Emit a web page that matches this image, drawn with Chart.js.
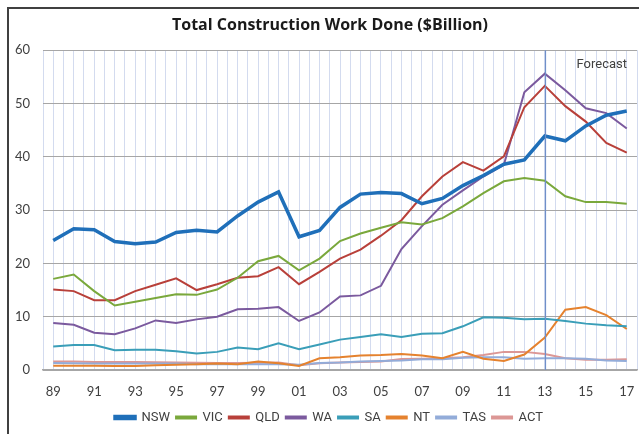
<!DOCTYPE html>
<html>
<head>
<meta charset="utf-8">
<script src="https://cdn.jsdelivr.net/npm/chart.js@4/dist/chart.umd.min.js"></script>
<style>
  html, body { margin: 0; padding: 0; background: #fff; overflow: hidden; }
  #bauChart { display: block; }
</style>
</head>
<body>
<canvas id="bauChart" width="639" height="434"></canvas>
<script>
// Jahre 1989 - 2017 (Werte in $Billion)
const years = [1989, 1990, 1991, 1992, 1993, 1994, 1995, 1996, 1997, 1998, 1999, 2000, 2001, 2002, 2003,
               2004, 2005, 2006, 2007, 2008, 2009, 2010, 2011, 2012, 2013, 2014, 2015, 2016, 2017];

const nsw = [24.3, 26.5, 26.3, 24.1, 23.7, 24.0, 25.8, 26.2, 25.9, 28.9, 31.5, 33.4, 25.0, 26.2, 30.5,
             33.0, 33.3, 33.1, 31.2, 32.2, 34.6, 36.5, 38.6, 39.4, 43.9, 43.0, 45.8, 47.8, 48.6];
const vic = [17.1, 17.9, 14.8, 12.1, 12.8, 13.5, 14.2, 14.1, 15.1, 17.3, 20.4, 21.4, 18.7, 20.9, 24.2,
             25.6, 26.7, 27.7, 27.3, 28.5, 30.7, 33.2, 35.4, 36.0, 35.5, 32.6, 31.5, 31.5, 31.2];
const qld = [15.1, 14.8, 13.1, 13.1, 14.8, 16.0, 17.2, 15.0, 16.1, 17.3, 17.6, 19.3, 16.1, 18.4, 20.9,
             22.6, 25.2, 28.1, 32.6, 36.3, 39.0, 37.4, 40.1, 49.3, 53.3, 49.5, 46.6, 42.6, 40.8];
const wa  = [8.8, 8.5, 7.0, 6.7, 7.8, 9.3, 8.8, 9.5, 10.0, 11.4, 11.5, 11.8, 9.2, 10.8, 13.8,
             14.0, 15.8, 22.7, 27.0, 31.0, 33.7, 36.3, 38.5, 52.1, 55.6, 52.5, 49.1, 48.2, 45.3];
const sa  = [4.4, 4.7, 4.7, 3.7, 3.8, 3.8, 3.5, 3.1, 3.4, 4.2, 3.9, 5.0, 3.9, 4.8, 5.7,
             6.2, 6.7, 6.2, 6.8, 6.9, 8.2, 9.9, 9.8, 9.5, 9.6, 9.2, 8.7, 8.4, 8.2];
const nt  = [0.8, 0.8, 0.8, 0.75, 0.75, 0.9, 1.0, 1.1, 1.2, 1.1, 1.6, 1.25, 0.75, 2.2, 2.4,
             2.7, 2.8, 3.0, 2.7, 2.2, 3.4, 2.1, 1.7, 2.9, 6.1, 11.3, 11.8, 10.3, 7.7];
const tas = [1.3, 1.25, 1.2, 1.2, 1.2, 1.2, 1.2, 1.1, 1.1, 1.1, 1.1, 1.1, 1.0, 1.3, 1.4,
             1.6, 1.7, 1.8, 2.0, 2.0, 2.3, 2.4, 2.4, 2.1, 2.2, 2.2, 2.1, 1.8, 1.7];
const act = [1.6, 1.6, 1.5, 1.5, 1.5, 1.45, 1.4, 1.35, 1.3, 1.3, 1.35, 1.4, 0.9, 1.25, 1.4,
             1.5, 1.6, 2.05, 2.1, 2.2, 2.4, 2.8, 3.4, 3.4, 3.0, 2.2, 1.9, 1.9, 2.0];

const forecastYear = 2013;

// x als Zahl, damit Gitterlinien auch zwischen den Jahren liegen
function toPoints(arr) {
  return arr.map((v, i) => ({ x: years[i], y: v }));
}

function line(label, arr, color, width) {
  return {
    label: label,
    data: toPoints(arr),
    borderColor: color,
    backgroundColor: color,
    borderWidth: width,
    pointRadius: 0,
    tension: 0
  };
}

// Rahmen, Titel/Legende etwas nach rechts, Forecast-Linie
const extrasPlugin = {
  id: 'extras',
  afterLayout(chart) {
    // im Original sind Titel und Legende auf den Rahmen (ab x=7) zentriert
    chart.titleBlock.left = 21;
    chart.titleBlock.right = 639;
    chart.legend.left = 19;
    chart.legend.right = 639;
  },
  beforeDraw(chart) {
    const ctx = chart.ctx;
    ctx.save();
    ctx.strokeStyle = '#404040';
    ctx.lineWidth = 2;
    ctx.strokeRect(8, 8, 660, 460);
    ctx.restore();
  },
  afterDatasetsDraw(chart) {
    const { ctx, chartArea, scales } = chart;
    const x = Math.round(scales.x.getPixelForValue(forecastYear)) + 0.5;
    ctx.save();
    ctx.strokeStyle = '#6f8fc9';
    ctx.lineWidth = 1.2;
    ctx.beginPath();
    ctx.moveTo(x, chartArea.top);
    ctx.lineTo(x, chartArea.bottom);
    ctx.stroke();
    ctx.fillStyle = '#404040';
    ctx.font = '13px Roboto, sans-serif';
    ctx.textAlign = 'right';
    ctx.textBaseline = 'middle';
    ctx.fillText('Forecast', chartArea.right - 10, chartArea.top + 15);
    ctx.restore();
  }
};

const ctx = document.getElementById('bauChart');

new Chart(ctx, {
  type: 'line',
  data: {
    datasets: [
      line('NSW', nsw, '#1f6fb9', 3.5),
      line('VIC', vic, '#7aa83c', 2),
      line('QLD', qld, '#b8403a', 2),
      line('WA', wa, '#7b5a9e', 2),
      line('SA', sa, '#3a9eb8', 2),
      line('NT', nt, '#e5822e', 2),
      line('TAS', tas, '#93acd9', 2),
      line('ACT', act, '#dc9795', 2)
    ]
  },
  options: {
    responsive: false,
    animation: false,
    layout: { padding: { left: 0, right: 2, top: 0, bottom: 0 } },
    plugins: {
      title: {
        display: true,
        text: 'Total Construction Work Done ($Billion)',
        color: '#1a1a1a',
        font: { family: 'Open Sans', size: 16, weight: 'bold' },
        padding: { top: 16, bottom: 15 }
      },
      legend: {
        position: 'bottom',
        labels: {
          color: '#404040',
          font: { family: 'Roboto', size: 13 },
          boxWidth: 20,
          boxHeight: 2,
          padding: 6
        }
      },
      tooltip: { enabled: false }
    },
    scales: {
      x: {
        type: 'linear',
        min: 1988.5,
        max: 2017.5,
        grid: { color: '#d3dbef', drawTicks: false },
        border: { color: '#a6a6a6', width: 1.5 },
        ticks: {
          stepSize: 0.5,
          autoSkip: false,
          maxRotation: 0,
          padding: 14,
          color: '#404040',
          font: { family: 'Lato', size: 13 },
          callback: (v) => (Number.isInteger(v) && v % 2 === 1) ? String(v % 100).padStart(2, '0') : ''
        },
        afterFit(axis) {
          axis.height = 35;
          axis.paddingRight = 0; // sonst reserviert Chart.js rechts Platz fuer den Tick-Abstand
        }
      },
      y: {
        min: 0,
        max: 60,
        grid: { color: '#a6a6a6', drawTicks: false },
        border: { display: false },
        ticks: {
          stepSize: 10,
          padding: 13,
          color: '#404040',
          font: { family: 'Lato', size: 13 }
        },
        afterFit(axis) { axis.width = 43; }
      }
    }
  },
  plugins: [extrasPlugin]
});
</script>
</body>
</html>
